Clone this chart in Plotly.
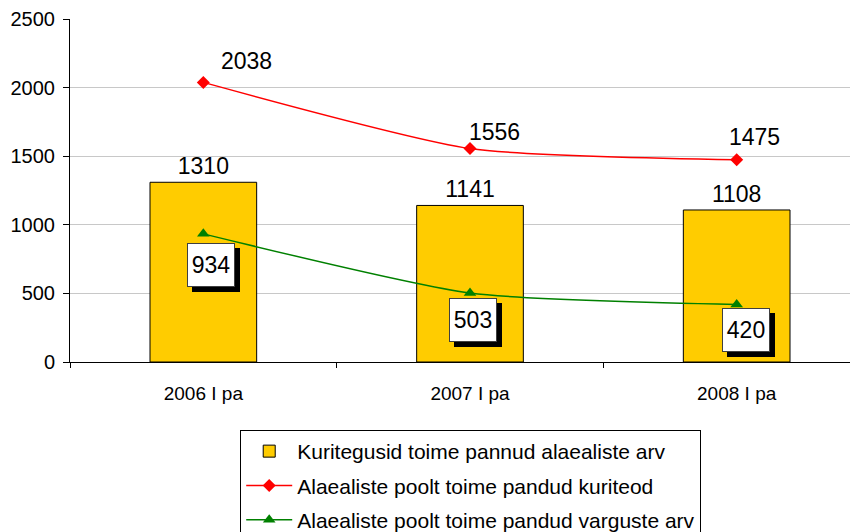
import plotly.graph_objects as go

categories = ["2006 I pa", "2007 I pa", "2008 I pa"]
juveniles = [1310, 1141, 1108]
crimes = [2038, 1556, 1475]
thefts = [934, 503, 420]
y_ticks = [0, 500, 1000, 1500, 2000, 2500]

xpos = list(range(len(categories)))
FONT = "Liberation Sans, Arial, sans-serif"

fig = go.Figure()
fig.add_trace(go.Bar(
    x=xpos, y=juveniles, width=0.4,
    marker=dict(color="#FFCC00", line=dict(color="black", width=1)),
    text=[str(v) for v in juveniles], textposition="outside",
    textfont=dict(size=23, color="black", family=FONT),
    cliponaxis=False,
    name="Kuritegusid toime pannud alaealiste arv",
    legendgroup="a",
))
fig.add_trace(go.Scatter(
    x=xpos, y=crimes, mode="lines+markers",
    line=dict(color="#FF0000", width=1.5, shape="spline", smoothing=0.6),
    marker=dict(symbol="diamond", size=10, color="#FF0000"),
    name="Alaealiste poolt toime pandud kuriteod",
    legendgroup="b",
))
fig.add_trace(go.Scatter(
    x=xpos, y=thefts, mode="lines+markers",
    line=dict(color="#008000", width=1.5, shape="spline", smoothing=0.6),
    marker=dict(symbol="triangle-up", size=11, color="#008000"),
    name="Alaealiste poolt toime pandud varguste arv",
    legendgroup="c",
))

# red series labels
red_shift = [(43, 21), (24, 17), (18, 23)]
for x, v, (dx, dy) in zip(xpos, crimes, red_shift):
    fig.add_annotation(x=x, y=v, text=str(v), showarrow=False,
                       xshift=dx, yshift=dy,
                       font=dict(size=23, color="black", family=FONT))

# green series labels in boxes with drop shadow
green_shift = [(8, -31), (3, -27), (9, -26)]
for x, v, (dx, dy) in zip(xpos, thefts, green_shift):
    fig.add_annotation(x=x, y=v, text=" ", showarrow=False,
                       xshift=dx + 5, yshift=dy - 5,
                       width=44, height=40,
                       bgcolor="black", bordercolor="black", borderwidth=1,
                       borderpad=1,
                       font=dict(size=23, color="black", family=FONT))
    fig.add_annotation(x=x, y=v, text=str(v), showarrow=False,
                       xshift=dx, yshift=dy,
                       width=44, height=40,
                       bgcolor="white", bordercolor="#404040", borderwidth=1,
                       borderpad=1,
                       font=dict(size=23, color="black", family=FONT))

# page body has an 8px margin, so the figure is sized/offset to compensate
fig.update_layout(
    width=850, height=524,
    margin=dict(l=62, r=0, t=11, b=170),
    paper_bgcolor="white", plot_bgcolor="white",
    font=dict(family=FONT, color="black"),
    showlegend=True,
    legend=dict(
        x=0.216, xanchor="left",
        yref="container", y=0.1947, yanchor="top",
        bordercolor="black", borderwidth=1, bgcolor="white",
        font=dict(size=21, family=FONT, color="black"),
        traceorder="grouped", tracegroupgap=4, itemwidth=46,
    ),
    xaxis=dict(
        range=[-0.5, 2.455], tickvals=xpos, ticktext=categories,
        showgrid=False, showline=True, linecolor="black", linewidth=1,
        ticks="", tickfont=dict(size=19, family=FONT),
        ticklabelstandoff=14,
        minor=dict(tick0=-0.5, dtick=1, ticks="outside", ticklen=5,
                   tickcolor="black", showgrid=False),
        zeroline=False, automargin=False,
    ),
    yaxis=dict(
        range=[0, 2500], tickvals=y_ticks,
        showgrid=True, gridcolor="#C8C8C8", gridwidth=1,
        showline=True, linecolor="black", linewidth=1,
        ticks="outside", ticklen=6, tickcolor="black",
        tickfont=dict(size=20, family=FONT),
        ticklabelstandoff=4,
        zeroline=False, automargin=False,
    ),
)

fig.write_html("out.html")
